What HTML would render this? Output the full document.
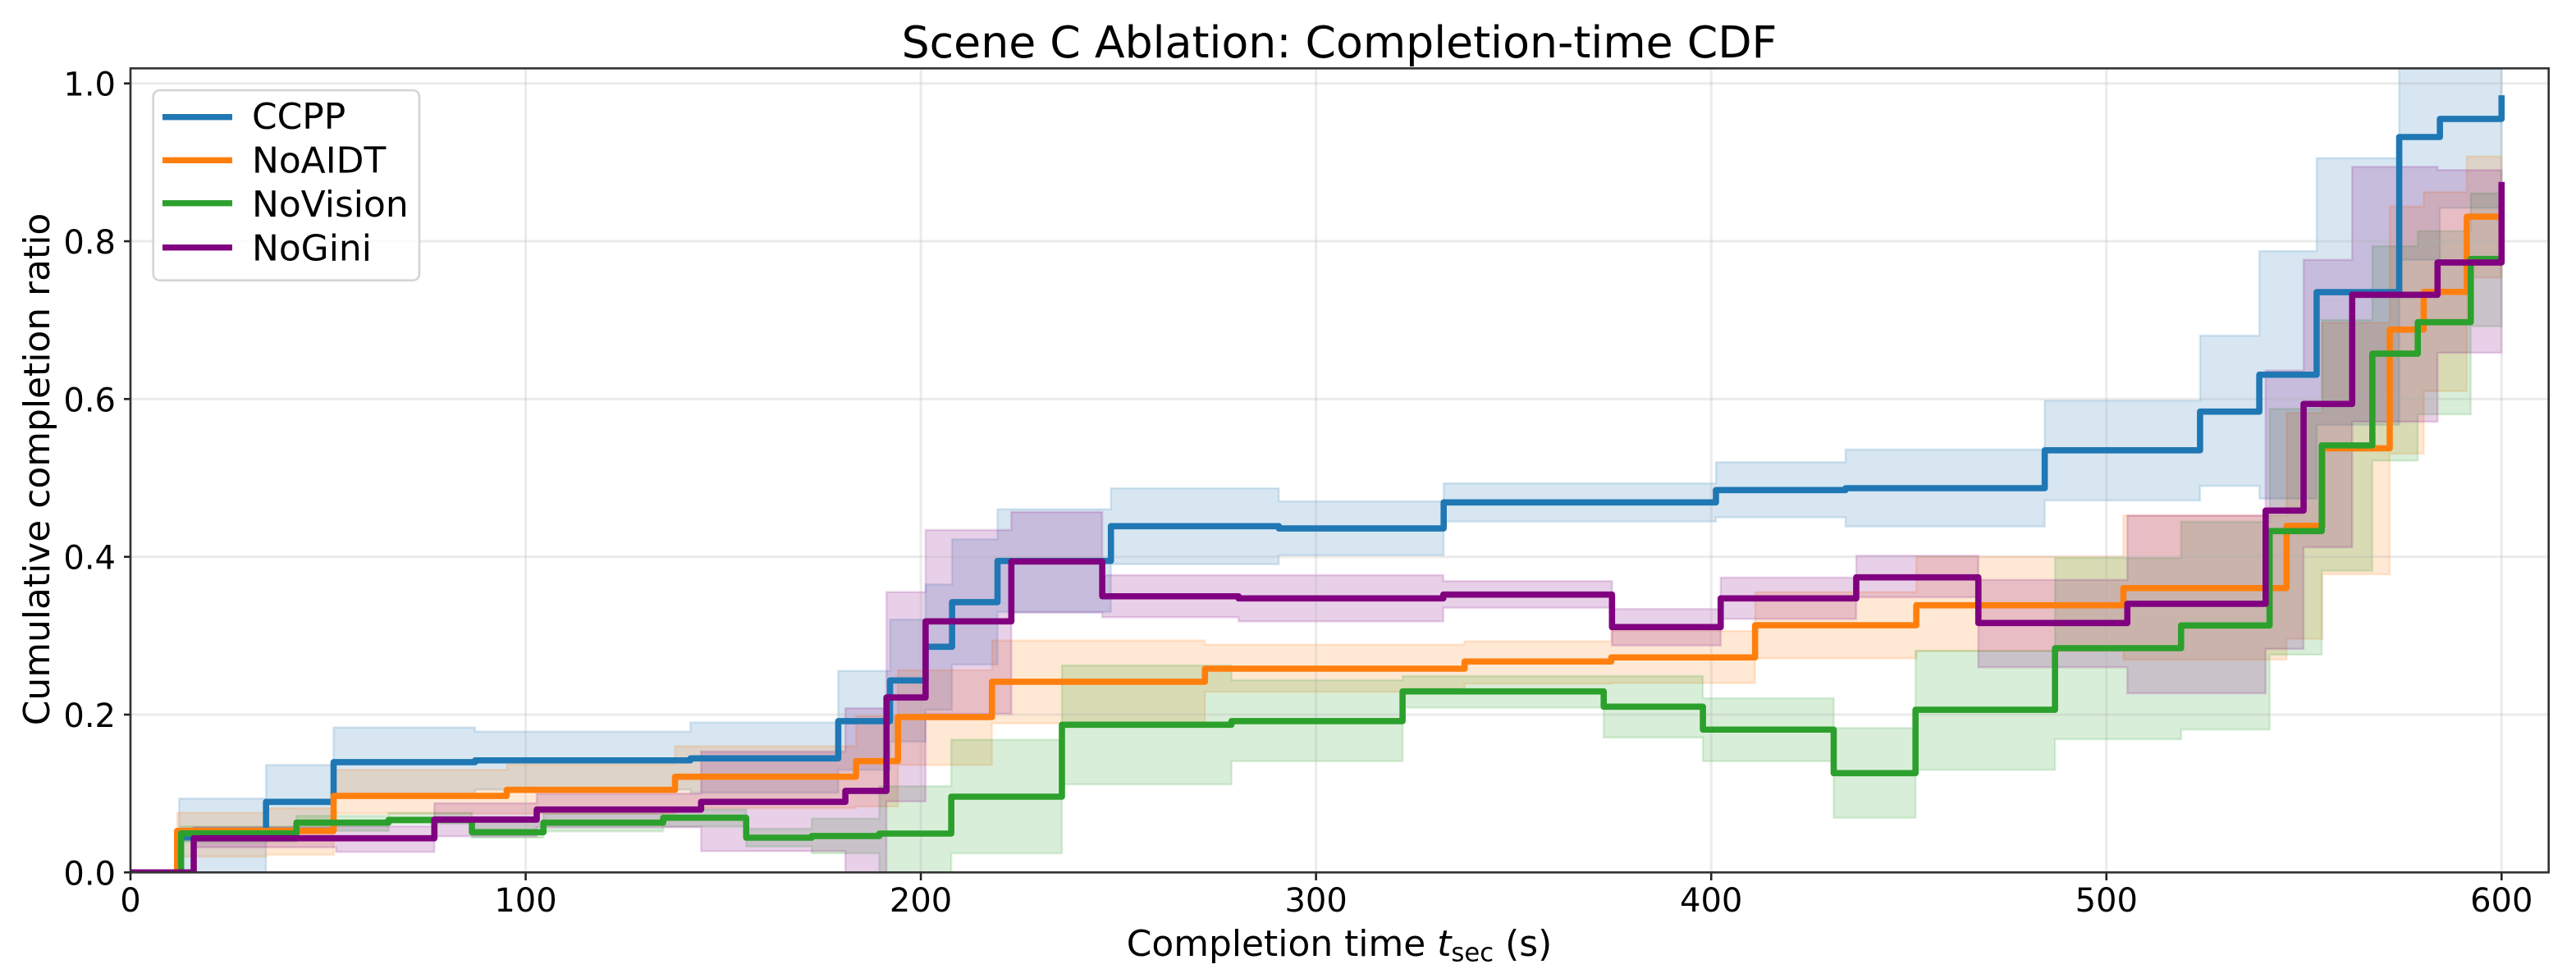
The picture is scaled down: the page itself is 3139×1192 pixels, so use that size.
<!DOCTYPE html>
<html lang="en">
<head>
<meta charset="utf-8">
<title>Scene C Ablation: Completion-time CDF</title>
<style>
html,body{margin:0;padding:0;background:#fff;width:3139px;height:1192px;overflow:hidden}
svg{display:block;position:absolute;left:0;top:0}
text{font-family:"DejaVu Sans","Liberation Sans",sans-serif;fill:#000}
</style>
</head>
<body>
<svg id="chart" xmlns="http://www.w3.org/2000/svg" width="3139" height="1192" viewBox="0 0 3139 1192">
  <defs>
    <clipPath id="plot-clip"><rect x="159" y="83.3" width="2946.7" height="980"/></clipPath>
  </defs>
  <rect x="0" y="0" width="3139" height="1192" fill="#fff"/>
  <g id="bands" clip-path="url(#plot-clip)"></g>
  <g id="grid"></g>
  <g id="lines" clip-path="url(#plot-clip)"></g>
  <g id="ticks"></g>
  <rect x="159" y="83.3" width="2946.7" height="980" fill="none" stroke="#333" stroke-width="2.6"/>
  <text x="1632" y="70" font-size="53.7" text-anchor="middle">Scene C Ablation: Completion-time CDF</text>
  <text x="1632" y="1165" font-size="43.9" text-anchor="middle">Completion time <tspan font-style="italic">t</tspan><tspan font-size="30.7" dy="6.5">sec</tspan><tspan dy="-6.5"> (s)</tspan></text>
  <text x="0" y="0" font-size="43.9" text-anchor="middle" transform="translate(60 572) rotate(-90)">Cumulative completion ratio</text>
  <g>
    <rect x="186.7" y="110" width="324.3" height="231.7" rx="8" ry="8" fill="#fff" fill-opacity="0.8" stroke="#ccc" stroke-opacity="0.85" stroke-width="2.6"/>
    <g>
      <line x1="198" x2="283" y1="142.7" y2="142.7" stroke="#1f77b4" stroke-width="7.4"/>
      <text x="307" y="157" font-size="43.9">CCPP</text>
    </g>
    <g>
      <line x1="198" x2="283" y1="195.3" y2="195.3" stroke="#ff7f0e" stroke-width="7.4"/>
      <text x="307" y="210.5" font-size="43.9">NoAIDT</text>
    </g>
    <g>
      <line x1="198" x2="283" y1="247.7" y2="247.7" stroke="#2ca02c" stroke-width="7.4"/>
      <text x="307" y="264" font-size="43.9">NoVision</text>
    </g>
    <g>
      <line x1="198" x2="283" y1="301.7" y2="301.7" stroke="#800080" stroke-width="7.4"/>
      <text x="307" y="317.5" font-size="43.9">NoGini</text>
    </g>
  </g>
</svg>
<script>
const xTickValues = [0, 100, 200, 300, 400, 500, 600];
const xTickLabels = ["0", "100", "200", "300", "400", "500", "600"];
const yTickValues = [0, 0.2, 0.4, 0.6, 0.8, 1];
const yTickLabels = ["0.0", "0.2", "0.4", "0.6", "0.8", "1.0"];

const ccppTimes = [12.3, 34.3, 51.4, 87.2, 141.7, 179.1, 192.2, 201.2, 207.9, 219.4, 248.1, 290.6, 332.3, 401.2, 434, 484.4, 523.7, 538.7, 553.2, 574.1, 584.4, 600];
const ccppValues = [0.0443, 0.0894, 0.1397, 0.142, 0.1445, 0.1917, 0.2433, 0.286, 0.3425, 0.3948, 0.4388, 0.436, 0.469, 0.4846, 0.487, 0.535, 0.584, 0.6308, 0.7355, 0.9321, 0.955, 0.985];
const ccppUpper = [0.0936, 0.1362, 0.1837, 0.1785, 0.19, 0.2554, 0.3206, 0.365, 0.4222, 0.4603, 0.487, 0.4704, 0.4932, 0.52, 0.536, 0.598, 0.6804, 0.7875, 0.9054, 1.04, 1.04, 1.04];
const ccppLower = [0, 0.05, 0.099, 0.105, 0.101, 0.13, 0.1657, 0.206, 0.2634, 0.33, 0.3906, 0.402, 0.4447, 0.45, 0.4385, 0.4714, 0.4898, 0.4738, 0.5672, 0.7764, 0.8423, 0.8423];

const noaidtTimes = [11.8, 34.3, 51.4, 95.2, 137.8, 183.6, 194.2, 218, 271.9, 337.6, 374.7, 411.1, 451.9, 504.3, 545.6, 554.7, 571.7, 580.3, 591.2, 600];
const noaidtValues = [0.0526, 0.0526, 0.097, 0.1046, 0.1213, 0.141, 0.1969, 0.2416, 0.2582, 0.2673, 0.2725, 0.3133, 0.3386, 0.3604, 0.4392, 0.5375, 0.688, 0.7358, 0.8312, 0.8312];
const noaidtUpper = [0.0755, 0.0814, 0.13, 0.1369, 0.16, 0.1982, 0.2564, 0.2939, 0.2887, 0.2929, 0.306, 0.3553, 0.4004, 0.4524, 0.5824, 0.6968, 0.844, 0.8624, 0.9075, 0.9075];
const noaidtLower = [0.02, 0.0225, 0.0745, 0.0745, 0.0814, 0.0835, 0.1362, 0.1889, 0.2288, 0.2392, 0.24, 0.2714, 0.2808, 0.2696, 0.2961, 0.3778, 0.5307, 0.61, 0.754, 0.754];

const novisionTimes = [12.8, 42, 65.3, 86.4, 104.5, 134.8, 155.8, 172.4, 189.5, 207.7, 235.7, 278.6, 321.9, 372.8, 397.9, 431, 451.7, 487, 518.9, 541.3, 554.5, 567.3, 578.8, 592.2, 600];
const novisionValues = [0.0495, 0.063, 0.0665, 0.0509, 0.063, 0.0693, 0.044, 0.0461, 0.0492, 0.096, 0.1872, 0.1917, 0.2294, 0.21, 0.181, 0.1258, 0.2062, 0.2842, 0.313, 0.4326, 0.5412, 0.6575, 0.6974, 0.7775, 0.7775];
const novisionUpper = [0.0582, 0.0717, 0.0755, 0.064, 0.0745, 0.0797, 0.0554, 0.0682, 0.1092, 0.1681, 0.2624, 0.2437, 0.2489, 0.2489, 0.2208, 0.183, 0.2808, 0.3986, 0.4444, 0.5876, 0.7002, 0.7938, 0.8128, 0.8607, 0.8607];
const novisionLower = [0.0388, 0.0526, 0.0617, 0.044, 0.052, 0.0582, 0.0329, 0.0242, 0, 0.0242, 0.1116, 0.141, 0.209, 0.1709, 0.141, 0.0693, 0.13, 0.1688, 0.181, 0.2759, 0.3823, 0.522, 0.5806, 0.6922, 0.6922];

const noginiTimes = [16, 52, 76.9, 102.8, 144.4, 180.9, 191.3, 201.2, 222.9, 245.9, 280.4, 332.2, 374.9, 402.4, 436.7, 467.6, 505.3, 540.3, 549.9, 562.2, 583.8, 600];
const noginiValues = [0.0433, 0.0433, 0.0669, 0.0797, 0.0894, 0.1033, 0.2218, 0.3182, 0.3941, 0.35, 0.3473, 0.3521, 0.3109, 0.3473, 0.374, 0.3161, 0.3404, 0.4586, 0.5938, 0.7321, 0.773, 0.8752];
const noginiUpper = [0.0572, 0.0585, 0.0877, 0.0998, 0.1532, 0.208, 0.3553, 0.434, 0.4568, 0.3768, 0.3768, 0.3692, 0.3338, 0.3737, 0.4014, 0.3708, 0.4524, 0.636, 0.7764, 0.8943, 0.8902, 0.8902];
const noginiLower = [0.0318, 0.026, 0.0457, 0.0572, 0.027, 0, 0.09, 0.201, 0.3293, 0.3234, 0.3182, 0.3355, 0.2877, 0.3213, 0.3487, 0.26, 0.227, 0.2832, 0.4121, 0.5712, 0.6586, 0.6586];

const seriesList = [
  { key: 'ccpp', color: '#1f77b4', times: ccppTimes, values: ccppValues, upper: ccppUpper, lower: ccppLower },
  { key: 'noaidt', color: '#ff7f0e', times: noaidtTimes, values: noaidtValues, upper: noaidtUpper, lower: noaidtLower },
  { key: 'novision', color: '#2ca02c', times: novisionTimes, values: novisionValues, upper: novisionUpper, lower: novisionLower },
  { key: 'nogini', color: '#800080', times: noginiTimes, values: noginiValues, upper: noginiUpper, lower: noginiLower }
];

const SVG_NS = 'http://www.w3.org/2000/svg';
function xScale(t) { return 159 + t * 4.8155; }
function yScale(v) { return 1063.3 - v * 961.6; }
function make(tag) { return document.createElementNS(SVG_NS, tag); }

function linePath(times, values) {
  let d = 'M' + xScale(0) + ' ' + yScale(0);
  for (let i = 0; i < times.length; i++) {
    d += 'H' + xScale(times[i]).toFixed(2) + 'V' + yScale(values[i]).toFixed(2);
  }
  return d;
}

function bandPath(times, upper, lower) {
  let d = 'M' + xScale(times[0]).toFixed(2) + ' ' + yScale(upper[0]).toFixed(2);
  for (let i = 1; i < times.length; i++) {
    d += 'H' + xScale(times[i]).toFixed(2) + 'V' + yScale(upper[i]).toFixed(2);
  }
  d += 'V' + yScale(lower[times.length - 1]).toFixed(2);
  for (let i = times.length - 1; i > 0; i--) {
    d += 'V' + yScale(lower[i - 1]).toFixed(2);
    d += 'H' + xScale(times[i - 1]).toFixed(2);
  }
  return d + 'Z';
}

const bandsGroup = document.getElementById('bands');
const gridGroup = document.getElementById('grid');
const linesGroup = document.getElementById('lines');
const ticksGroup = document.getElementById('ticks');

seriesList.forEach(function (s) {
  const band = make('path');
  
  
  band.setAttribute('d', bandPath(s.times, s.upper, s.lower));
  band.setAttribute('fill', s.color);
  band.setAttribute('fill-opacity', '0.18');
  band.setAttribute('stroke', s.color);
  band.setAttribute('stroke-opacity', '0.16');
  band.setAttribute('stroke-width', '2.6');
  bandsGroup.appendChild(band);
});

xTickValues.forEach(function (v, i) {
  const gridLine = make('line');
  
  
  gridLine.setAttribute('x1', xScale(v));
  gridLine.setAttribute('x2', xScale(v));
  gridLine.setAttribute('y1', 83.3);
  gridLine.setAttribute('y2', 1063.3);
  gridLine.setAttribute('stroke', '#b0b0b0');
  gridLine.setAttribute('stroke-opacity', '0.25');
  gridLine.setAttribute('stroke-width', '3');
  gridGroup.appendChild(gridLine);

  const tick = make('line');
  
  
  tick.setAttribute('x1', xScale(v));
  tick.setAttribute('x2', xScale(v));
  tick.setAttribute('y1', 1063.3);
  tick.setAttribute('y2', 1073);
  tick.setAttribute('stroke', '#222');
  tick.setAttribute('stroke-width', '2.6');
  ticksGroup.appendChild(tick);

  const label = make('text');
  
  
  label.setAttribute('x', xScale(v));
  label.setAttribute('y', 1111);
  label.setAttribute('font-size', '40');
  label.setAttribute('text-anchor', 'middle');
  label.textContent = xTickLabels[i];
  ticksGroup.appendChild(label);
});

yTickValues.forEach(function (v, i) {
  const gridLine = make('line');
  
  
  gridLine.setAttribute('x1', 159);
  gridLine.setAttribute('x2', 3105.7);
  gridLine.setAttribute('y1', yScale(v));
  gridLine.setAttribute('y2', yScale(v));
  gridLine.setAttribute('stroke', '#b0b0b0');
  gridLine.setAttribute('stroke-opacity', '0.25');
  gridLine.setAttribute('stroke-width', '3');
  gridGroup.appendChild(gridLine);

  const tick = make('line');
  
  
  tick.setAttribute('x1', 151);
  tick.setAttribute('x2', 159);
  tick.setAttribute('y1', yScale(v));
  tick.setAttribute('y2', yScale(v));
  tick.setAttribute('stroke', '#222');
  tick.setAttribute('stroke-width', '2.6');
  ticksGroup.appendChild(tick);

  const label = make('text');
  
  
  label.setAttribute('x', 141);
  label.setAttribute('y', yScale(v) + 15);
  label.setAttribute('font-size', '40');
  label.setAttribute('text-anchor', 'end');
  label.textContent = yTickLabels[i];
  ticksGroup.appendChild(label);
});

seriesList.forEach(function (s) {
  const path = make('path');
  
  
  path.setAttribute('d', linePath(s.times, s.values));
  path.setAttribute('fill', 'none');
  path.setAttribute('stroke', s.color);
  path.setAttribute('stroke-width', '7.6');
  path.setAttribute('stroke-linejoin', 'round');
  path.setAttribute('stroke-linecap', 'butt');
  linesGroup.appendChild(path);
});
</script>
</body>
</html>
